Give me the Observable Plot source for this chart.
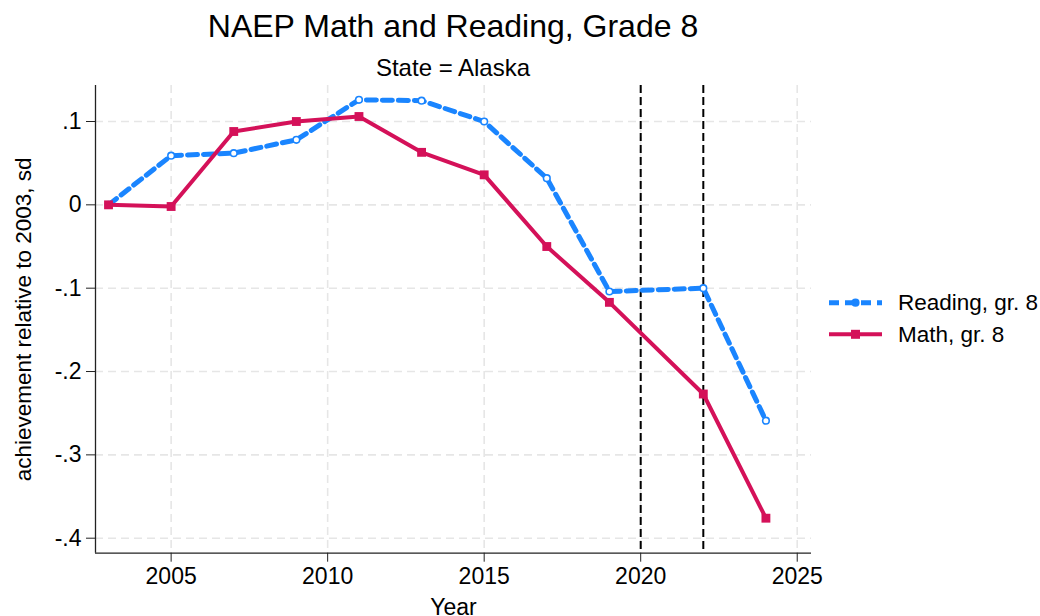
<!DOCTYPE html>
<html>
<head>
<meta charset="utf-8">
<script src="https://cdn.jsdelivr.net/npm/d3@7"></script>
<script src="https://cdn.jsdelivr.net/npm/@observablehq/plot@0.6"></script>
<style>
  html, body { margin: 0; padding: 0; background: #ffffff; }
  #wrap { position: relative; width: 1040px; height: 616px; background: #ffffff; overflow: hidden;
          font-family: "Liberation Sans", Arial, Helvetica, sans-serif; color: #000; }
  .ttl { position: absolute; left: 95px; width: 716px; text-align: center; line-height: 1; white-space: nowrap; }
  #title { top: 9.6px; font-size: 32px; }
  #subtitle { top: 56.4px; font-size: 24px; }
  #plot { position: absolute; left: 0; top: 80px; }
  #legend { position: absolute; left: 820px; top: 280px; }
</style>
</head>
<body>
<div id="wrap">
  <div id="title" class="ttl">NAEP Math and Reading, Grade 8</div>
  <div id="subtitle" class="ttl">State = Alaska</div>
  <div id="plot"></div>
  <svg id="legend" width="220" height="80"></svg>
</div>
<script>
// ---- data ----
const years = [2003, 2005, 2007, 2009, 2011, 2013, 2015, 2017, 2019, 2022, 2024];
const readingGr8 = [0, 0.059, 0.062, 0.078, 0.126, 0.125, 0.100, 0.032, -0.104, -0.100, -0.259];
const mathGr8 = [0, -0.002, 0.088, 0.100, 0.106, 0.063, 0.036, -0.050, -0.117, -0.227, -0.376];
const refYears = [2020, 2022];
const xTicks = [2005, 2010, 2015, 2020, 2025];
const yTicks = [0.1, 0, -0.1, -0.2, -0.3, -0.4];
const yTickLabels = [".1", "0", "-.1", "-.2", "-.3", "-.4"];
const seriesNames = ["Reading, gr. 8", "Math, gr. 8"];
const xLabel = "Year";
const yLabel = "achievement relative to 2003, sd";

const blue = "#1A85FF";
const red = "#D41159";
const font = "'Liberation Sans', Arial, Helvetica, sans-serif";

const reading = years.map((x, i) => ({x, y: readingGr8[i]}));
const math = years.map((x, i) => ({x, y: mathGr8[i]}));

const xDomain = [2002.584, 2025.456];
const yDomain = [-0.418, 0.1432];
const yFmt = d => yTickLabels[yTicks.findIndex(t => Math.abs(t - d) < 1e-9)];

const chart = Plot.plot({
  width: 1040,
  height: 536,
  marginTop: 5,
  marginLeft: 95,
  marginRight: 229,
  marginBottom: 63.3,
  style: {fontFamily: font, fontSize: "23px", background: "#ffffff", color: "#000", overflow: "visible"},
  x: {domain: xDomain, label: null},
  y: {domain: yDomain, label: null},
  marks: [
    Plot.gridX(xTicks, {stroke: "#e6e6e6", strokeOpacity: 1, strokeWidth: 1.6, strokeDasharray: "8,5"}),
    Plot.gridY(yTicks, {stroke: "#e6e6e6", strokeOpacity: 1, strokeWidth: 1.6, strokeDasharray: "8,5"}),
    Plot.ruleX(refYears, {stroke: "#000", strokeWidth: 2, strokeDasharray: "8,4"}),
    Plot.ruleY([yDomain[0]], {stroke: "#222", strokeWidth: 1.3}),
    Plot.ruleX([xDomain[0]], {stroke: "#222", strokeWidth: 1.3}),
    Plot.axisX(xTicks, {tickSize: 9, tickPadding: 5, fontSize: 23, tickFormat: d => String(d), label: null, stroke: "#222"}),
    Plot.axisY(yTicks, {tickSize: 9, tickPadding: 5, fontSize: 23, tickFormat: yFmt, label: null, stroke: "#222"}),
    Plot.text([xLabel], {frameAnchor: "bottom", dy: 61.5, lineAnchor: "bottom", fontSize: 23, fill: "#000"}),
    Plot.text([yLabel], {frameAnchor: "left", dx: -71.4, rotate: -90, textAnchor: "middle", lineAnchor: "middle", fontSize: 22.5, fill: "#000"}),
    Plot.line(reading, {x: "x", y: "y", stroke: blue, strokeWidth: 5, strokeDasharray: "10,6", strokeLinejoin: "round"}),
    Plot.dot(reading, {x: "x", y: "y", r: 3.3, fill: "#ffffff", stroke: blue, strokeWidth: 1.6}),
    Plot.line(math, {x: "x", y: "y", stroke: red, strokeWidth: 4, strokeLinejoin: "round"}),
    Plot.dot(math, {x: "x", y: "y", symbol: "square", r: 5, fill: red, stroke: "none"})
  ]
});
document.getElementById("plot").appendChild(chart);

// ---- legend ----
const lg = d3.select("#legend");
const rows = [
  {name: seriesNames[0], color: blue, dash: "10,6", w: 5, sym: "circle", y: 22.7},
  {name: seriesNames[1], color: red, dash: null, w: 4, sym: "square", y: 54.3}
];
rows.forEach(r => {
  lg.append("line").attr("x1", 9).attr("x2", 62).attr("y1", r.y).attr("y2", r.y)
    .attr("stroke", r.color).attr("stroke-width", r.w)
    .attr("stroke-dasharray", r.dash);
  if (r.sym === "circle") {
    lg.append("circle").attr("cx", 35.5).attr("cy", r.y).attr("r", 3.3)
      .attr("fill", r.color).attr("stroke", r.color).attr("stroke-width", 1.6);
  } else {
    lg.append("rect").attr("x", 31).attr("y", r.y - 4.5).attr("width", 9).attr("height", 9).attr("fill", r.color);
  }
  lg.append("text").attr("x", 78).attr("y", r.y + 7.5).attr("font-size", 22.5)
    .attr("font-family", font).attr("fill", "#000").text(r.name);
});
</script>
</body>
</html>
